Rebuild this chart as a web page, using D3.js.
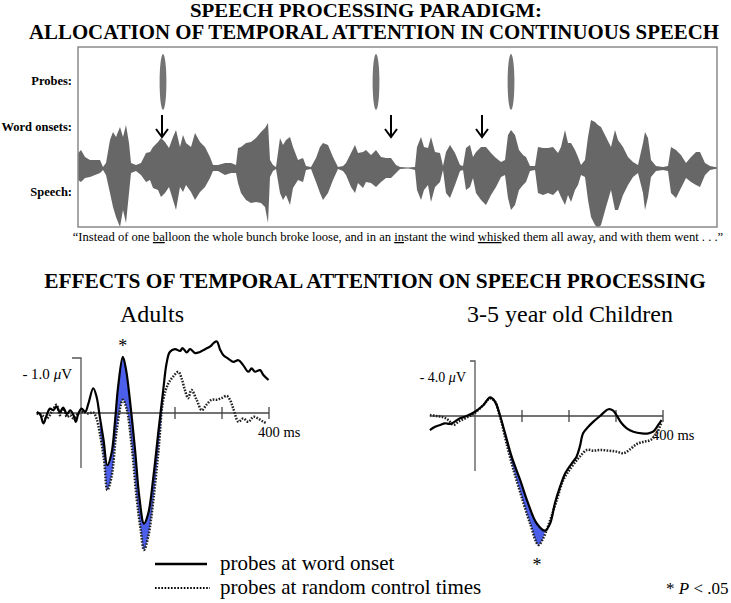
<!DOCTYPE html>
<html>
<head>
<meta charset="utf-8">
<script src="https://cdnjs.cloudflare.com/ajax/libs/d3/7.8.5/d3.min.js"></script>
<style>
  body { margin: 0; background: #fff; }
  svg text { font-family: "Liberation Serif", "Times New Roman", serif; fill: #000; }
</style>
</head>
<body>
<script>
const width = 731; //Width of SVG.
const height = 603; //Height of SVG.

// ---- speech paradigm (time in ms, amplitude in arbitrary units) ----
const speechMs = [0,30,70,120,170,220,250,280,320,350,380,420,450,480,510,530,580,630,680,720,750,800,830,870,910,950,980,1020,1050,1080,1130,1170,1220,1270,1320,1350,1400,1470,1530,1580,
  1600,1630,1680,1730,1780,1830,1870,1900,1920,1950,1980,2020,2050,2080,2120,2150,2200,2250,2280,2330,2380,2420,2450,2500,2550,2600,2650,2680,2730,2770,2800,2850,2880,2930,2980,3030,3080,3130,3180,3220,
  3300,3370,3390,3430,3460,3500,3530,3570,3620,3650,3680,3720,3770,3820,3850,3880,3920,3950,3980,4030,4080,4130,4180,4230,4270,4300,4330,4370,4410,4450,4480,4520,4570,4600,4650,4700,4750,4800,
  4830,4870,4900,4930,4970,5000,5030,5070,5100,5130,5170,5200,5230,5280,5330,5370,5400,5450,5500,5550,5600,5650,5670,5700,5730,5780,5850,5900,5930,5980,6030,6080,6130,6180,6220,6270,6320,6370,6390];
const speechUp = [15,18,11,8,8,8,1,5,28,36,31,41,31,43,25,5,3,5,15,16,21,26,30,26,20,31,38,21,33,25,21,35,26,21,11,3,3,5,5,3,
  20,21,25,26,30,36,40,45,8,3,1,30,23,28,31,21,8,10,2,1,10,21,25,23,11,1,2,5,15,23,15,16,18,13,18,11,10,10,3,1,
  0,1,21,31,21,20,31,16,15,2,16,23,15,3,2,20,23,11,16,21,21,15,10,6,8,33,38,33,18,13,11,2,2,21,20,20,21,15,
  21,38,25,25,18,11,3,8,31,48,46,43,41,31,21,38,28,21,11,6,3,25,36,30,8,2,1,2,21,18,13,5,11,16,16,5,2,1,1];
const speechDown = [12,14,10,9,7,5,2,7,25,39,49,59,42,55,25,5,3,7,14,12,20,22,29,25,19,32,42,19,24,17,24,32,24,19,10,3,3,7,5,5,
  15,25,32,35,34,35,39,55,9,3,1,25,32,27,37,20,12,14,2,1,14,25,32,25,12,1,3,7,19,25,15,20,14,15,19,14,10,10,5,1,
  0,2,22,32,22,17,34,19,14,2,25,30,17,3,2,22,19,10,25,32,37,27,19,9,7,30,42,37,22,17,14,3,2,25,27,25,27,22,
  29,37,27,34,22,17,7,9,32,49,57,60,57,39,22,42,42,27,17,9,5,25,42,29,9,3,2,3,25,30,20,10,14,17,19,7,2,1,1];
const probeMs = [850, 2980, 4330]; //Probe bursts.
const onsetMs = [840, 3130, 4040]; //Word onsets (arrows).
const rowLabels = ["Probes:", "Word onsets:", "Speech:"];
const sentence = [["\u201CInstead of one ", false], ["ba", true], ["lloon the whole bunch broke loose, and in an ", false],
  ["in", true], ["stant the wind ", false], ["whis", true], ["ked them all away, and with them went . . .\u201D", false]];

// ---- ERP waveforms [ms, microvolts] (negative plotted up) ----
const adultOnset = [[-94,-0.02],[-87,0.02],[-80,0.19],[-73,0.04],[-66,-0.08],[-59,-0.05],[-52,-0.12],[-45,-0.01],[-38,-0.10],[-30,0.02],
  [-23,-0.05],[-16,0.04],[-11,0.16],[-6,0.02],[1,-0.08],[9,-0.02],[16,-0.18],[26,-0.45],[33,-0.30],[40,0.07],[48,0.49],[56,0.95],
  [65,0.73],[72,0.19],[79,-0.48],[89,-1.02],[96,-0.78],[104,-0.24],[115,0.67],[124,1.52],[134,2.01],[143,1.83],[154,1.16],[165,0.31],
  [175,-0.42],[182,-0.90],[189,-1.11],[200,-1.16],[211,-1.13],[216,-1.18],[225,-1.10],[232,-1.16],[243,-1.09],[253,-1.11],[264,-1.16],
  [275,-1.21],[282,-1.27],[289,-1.30],[296,-1.15],[303,-1.05],[313,-0.99],[324,-0.93],[335,-0.96],[345,-0.87],[356,-0.75],[363,-0.81],
  [370,-0.75],[381,-0.78],[388,-0.69],[399,-0.60]];
const adultControl = [[-94,0.01],[-83,0.04],[-73,0.10],[-62,-0.02],[-52,-0.15],[-45,0.04],[-38,-0.08],[-30,0.07],[-23,0.04],[-16,0.10],
  [-6,0.01],[5,-0.02],[16,0.01],[26,-0.01],[33,0.10],[40,0.37],[49,0.85],[56,1.40],[65,1.16],[76,0.31],[89,-0.24],[97,-0.08],[108,0.61],
  [118,1.52],[127,2.13],[134,2.49],[143,2.25],[154,1.58],[165,0.67],[175,-0.24],[186,-0.54],[196,-0.66],[207,-0.75],[214,-0.63],[221,-0.42],
  [228,-0.27],[235,-0.42],[246,-0.24],[257,-0.05],[267,-0.15],[278,-0.24],[289,-0.24],[299,-0.27],[310,-0.31],[317,-0.24],[324,-0.08],
  [335,0.16],[345,0.10],[356,0.16],[367,0.07],[377,0.10],[388,0.16],[395,0.19]];
const childOnset = [[-96,1.02],[-85,0.78],[-74,0.65],[-64,0.53],[-53,0.58],[-43,0.41],[-32,0.17],[-18,0.0],[0,-0.31],[18,-0.80],[32,-1.36],
  [39,-1.21],[46,-0.80],[53,-0.07],[64,1.26],[78,2.96],[96,4.65],[113,6.35],[131,7.80],[149,8.34],[160,7.80],[170,6.35],[181,5.14],[192,4.17],
  [206,3.44],[216,2.96],[223,2.23],[230,1.26],[241,0.78],[252,0.41],[266,0.0],[284,-0.49],[294,-0.39],[301,-0.07],[312,0.53],[323,0.90],
  [337,1.14],[355,1.26],[369,1.26],[379,1.14],[390,0.65],[397,0.29]];
const childControl = [[-96,-0.07],[-82,0.0],[-67,0.10],[-57,0.29],[-46,0.65],[-35,0.41],[-25,0.24],[-11,0.0],[0,-0.24],[18,-0.80],[32,-1.28],
  [43,-1.04],[50,-0.31],[57,0.53],[67,1.99],[82,3.93],[99,5.87],[117,7.80],[135,9.38],[145,8.90],[160,7.56],[174,6.11],[188,4.65],[206,3.69],
  [223,2.96],[238,2.47],[252,2.52],[266,2.47],[284,2.52],[301,2.59],[316,2.71],[330,2.42],[344,2.04],[359,1.87],[373,1.75],[387,1.26],[397,0.41]];
const adultTicks = [200, 300, 400];
const childTicks = [100, 200, 300, 400];
const adultShade = [40, 175]; //ms window of shaded difference.
const childShade = [50, 150];
const legendItems = ["probes at word onset", "probes at random control times"];

const blue = "#4b5fea";

let svg = d3.select("body").append("svg")
            .attr("width", width)
            .attr("height", height);

// ---- titles ----
svg.append("text").attr("x", 366).attr("y", 17).attr("text-anchor", "middle")
   .attr("textLength", 352).attr("lengthAdjust", "spacingAndGlyphs")
   .style("font-size", "18.5px").style("font-weight", "bold").text("SPEECH PROCESSING PARADIGM:");
svg.append("text").attr("x", 374).attr("y", 39).attr("text-anchor", "middle")
   .attr("textLength", 690).attr("lengthAdjust", "spacingAndGlyphs")
   .style("font-size", "20px").style("font-weight", "bold").text("ALLOCATION OF TEMPORAL ATTENTION IN CONTINUOUS SPEECH");

// ---- speech box ----
const box = {x0: 78, x1: 717, y0: 47, y1: 227};
let xS = d3.scaleLinear().domain([0, 6390]).range([box.x0, box.x1]);
let yS = d3.scaleLinear().domain([-60, 60]).range([228, 108]);

svg.append("clipPath").attr("id", "boxclip")
   .append("rect").attr("x", box.x0).attr("y", box.y0).attr("width", box.x1 - box.x0).attr("height", box.y1 - box.y0);

let speech = speechMs.map((t, i) => ({t: t, up: speechUp[i], down: speechDown[i]}));

let wave = svg.append("g").attr("clip-path", "url(#boxclip)");
wave.append("line") //Silent baseline.
    .attr("x1", box.x0).attr("x2", box.x1).attr("y1", yS(0)).attr("y2", yS(0))
    .attr("stroke", "#6e6e6e").attr("stroke-width", 1.2);
wave.append("path")
    .datum(speech)
    .attr("fill", "#676767")
    .attr("d", d3.area().x(d => xS(d.t)).y0(d => yS(-d.down)).y1(d => yS(d.up)));

svg.append("rect") //Box frame.
   .attr("x", box.x0).attr("y", box.y0).attr("width", box.x1 - box.x0).attr("height", box.y1 - box.y0)
   .attr("fill", "none").attr("stroke", "#8a8a8a").attr("stroke-width", 1.5);

svg.selectAll(".probe").data(probeMs).enter().append("ellipse")
   .attr("class", "probe")
   .attr("cx", d => xS(d)).attr("cy", 82).attr("rx", 3.4).attr("ry", 28)
   .attr("fill", "#747474");

svg.selectAll(".onset").data(onsetMs).enter().append("path")
   .attr("class", "onset")
   .attr("d", d => { let x = xS(d); return "M" + x + ",115L" + x + ",137M" + (x - 6) + ",129L" + x + ",137L" + (x + 6) + ",129"; })
   .attr("fill", "none").attr("stroke", "#000").attr("stroke-width", 2);

svg.selectAll(".rowlabel").data(rowLabels).enter().append("text")
   .attr("x", 72).attr("y", (d, i) => [85, 131, 196][i])
   .attr("text-anchor", "end")
   .style("font-size", "12.5px").style("font-weight", "bold")
   .text(d => d);

let sent = svg.append("text").attr("x", 398).attr("y", 241).attr("text-anchor", "middle").style("font-size", "12.6px");
sentence.forEach(p => {
  sent.append("tspan").text(p[0]).style("text-decoration", p[1] ? "underline" : "none");
});

// ---- ERP section ----
svg.append("text").attr("x", 375).attr("y", 288).attr("text-anchor", "middle")
   .style("font-size", "21.4px").style("font-weight", "bold").text("EFFECTS OF TEMPORAL ATTENTION ON SPEECH PROCESSING");

function erpPanel(opt) {
  let x = d3.scaleLinear().domain([0, 400]).range(opt.xr);
  let y = d3.scaleLinear().domain([-opt.cal, opt.cal]).range(opt.yr);
  let g = svg.append("g");
  let line = d3.line().curve(d3.curveCatmullRom.alpha(0.5)).x(d => x(d[0])).y(d => y(d[1]));

  g.append("text").attr("x", opt.titleX).attr("y", 322).attr("text-anchor", "middle")
   .style("font-size", "24px").text(opt.title);

  // shaded difference between the two waves
  let a = opt.onset.filter(d => d[0] >= opt.shade[0] && d[0] <= opt.shade[1]);
  let b = opt.control.filter(d => d[0] >= opt.shade[0] && d[0] <= opt.shade[1]).reverse();
  g.append("path")
   .attr("d", line(a) + "L" + line(b).slice(1) + "Z")
   .attr("fill", blue);

  // axes
  g.append("line").attr("x1", x(opt.start)).attr("x2", x(400)).attr("y1", y(0)).attr("y2", y(0))
   .attr("stroke", "#444").attr("stroke-width", 1.3);
  g.selectAll(".tick").data(opt.ticks).enter().append("line")
   .attr("x1", d => x(d)).attr("x2", d => x(d)).attr("y1", y(0) - 6).attr("y2", y(0) + 6)
   .attr("stroke", "#444").attr("stroke-width", 1.3);
  g.append("path")
   .attr("d", "M" + (x(0) - opt.cap) + "," + y(-opt.cal) + "H" + x(0) + "V" + y(opt.cal))
   .attr("fill", "none").attr("stroke", "#555").attr("stroke-width", 1.3);

  let cal = g.append("text").attr("x", x(0) - 9).attr("y", y(-opt.cal) + 21)
             .attr("text-anchor", "end").style("font-size", opt.calSize);
  cal.append("tspan").text("- " + opt.cal.toFixed(1) + " ");
  cal.append("tspan").style("font-style", "italic").text("\u03bc");
  cal.append("tspan").text("V");

  g.append("text").attr("x", x(400) - 11).attr("y", y(0) + 24)
   .style("font-size", "14.5px").text("400 ms");

  // waves
  g.append("path").datum(opt.control).attr("d", line)
   .attr("fill", "none").attr("stroke", "#222").attr("stroke-width", 2.5).attr("stroke-dasharray", "1.6,1.4");
  g.append("path").datum(opt.onset).attr("d", line)
   .attr("fill", "none").attr("stroke", "#000").attr("stroke-width", 2.2);

  g.append("text").attr("x", x(opt.star[0])).attr("y", opt.star[1]).attr("text-anchor", "middle")
   .style("font-size", "18px").text("*");
}

erpPanel({title: "Adults", titleX: 152, xr: [81, 269], yr: [358, 468], cal: 1, cap: 9, calSize: "15px",
          onset: adultOnset, control: adultControl, ticks: adultTicks, shade: adultShade, start: -95, star: [89, 352]});
erpPanel({title: "3-5 year old Children", titleX: 570, xr: [475, 663], yr: [361, 471], cal: 4, cap: 5, calSize: "14px",
          onset: childOnset, control: childControl, ticks: childTicks, shade: childShade, start: -96, star: [132, 571]});

// ---- legend ----
let legend = svg.selectAll(".legend").data(legendItems).enter().append("g")
                .attr("class", "legend")
                .attr("transform", (d, i) => "translate(0," + i * 24 + ")");
legend.append("line")
      .attr("x1", 155).attr("x2", (d, i) => i ? 210 : 207).attr("y1", 564).attr("y2", 564)
      .attr("stroke", "#000")
      .attr("stroke-width", (d, i) => i ? 2 : 2.6)
      .attr("stroke-dasharray", (d, i) => i ? "1.6,1.6" : null);
legend.append("text").attr("x", 220).attr("y", 570)
      .style("font-size", "21px").text(d => d);

let pnote = svg.append("text").attr("x", 666).attr("y", 594).style("font-size", "17px");
pnote.append("tspan").text("* ");
pnote.append("tspan").style("font-style", "italic").text("P");
pnote.append("tspan").text(" < .05");
</script>
</body>
</html>
